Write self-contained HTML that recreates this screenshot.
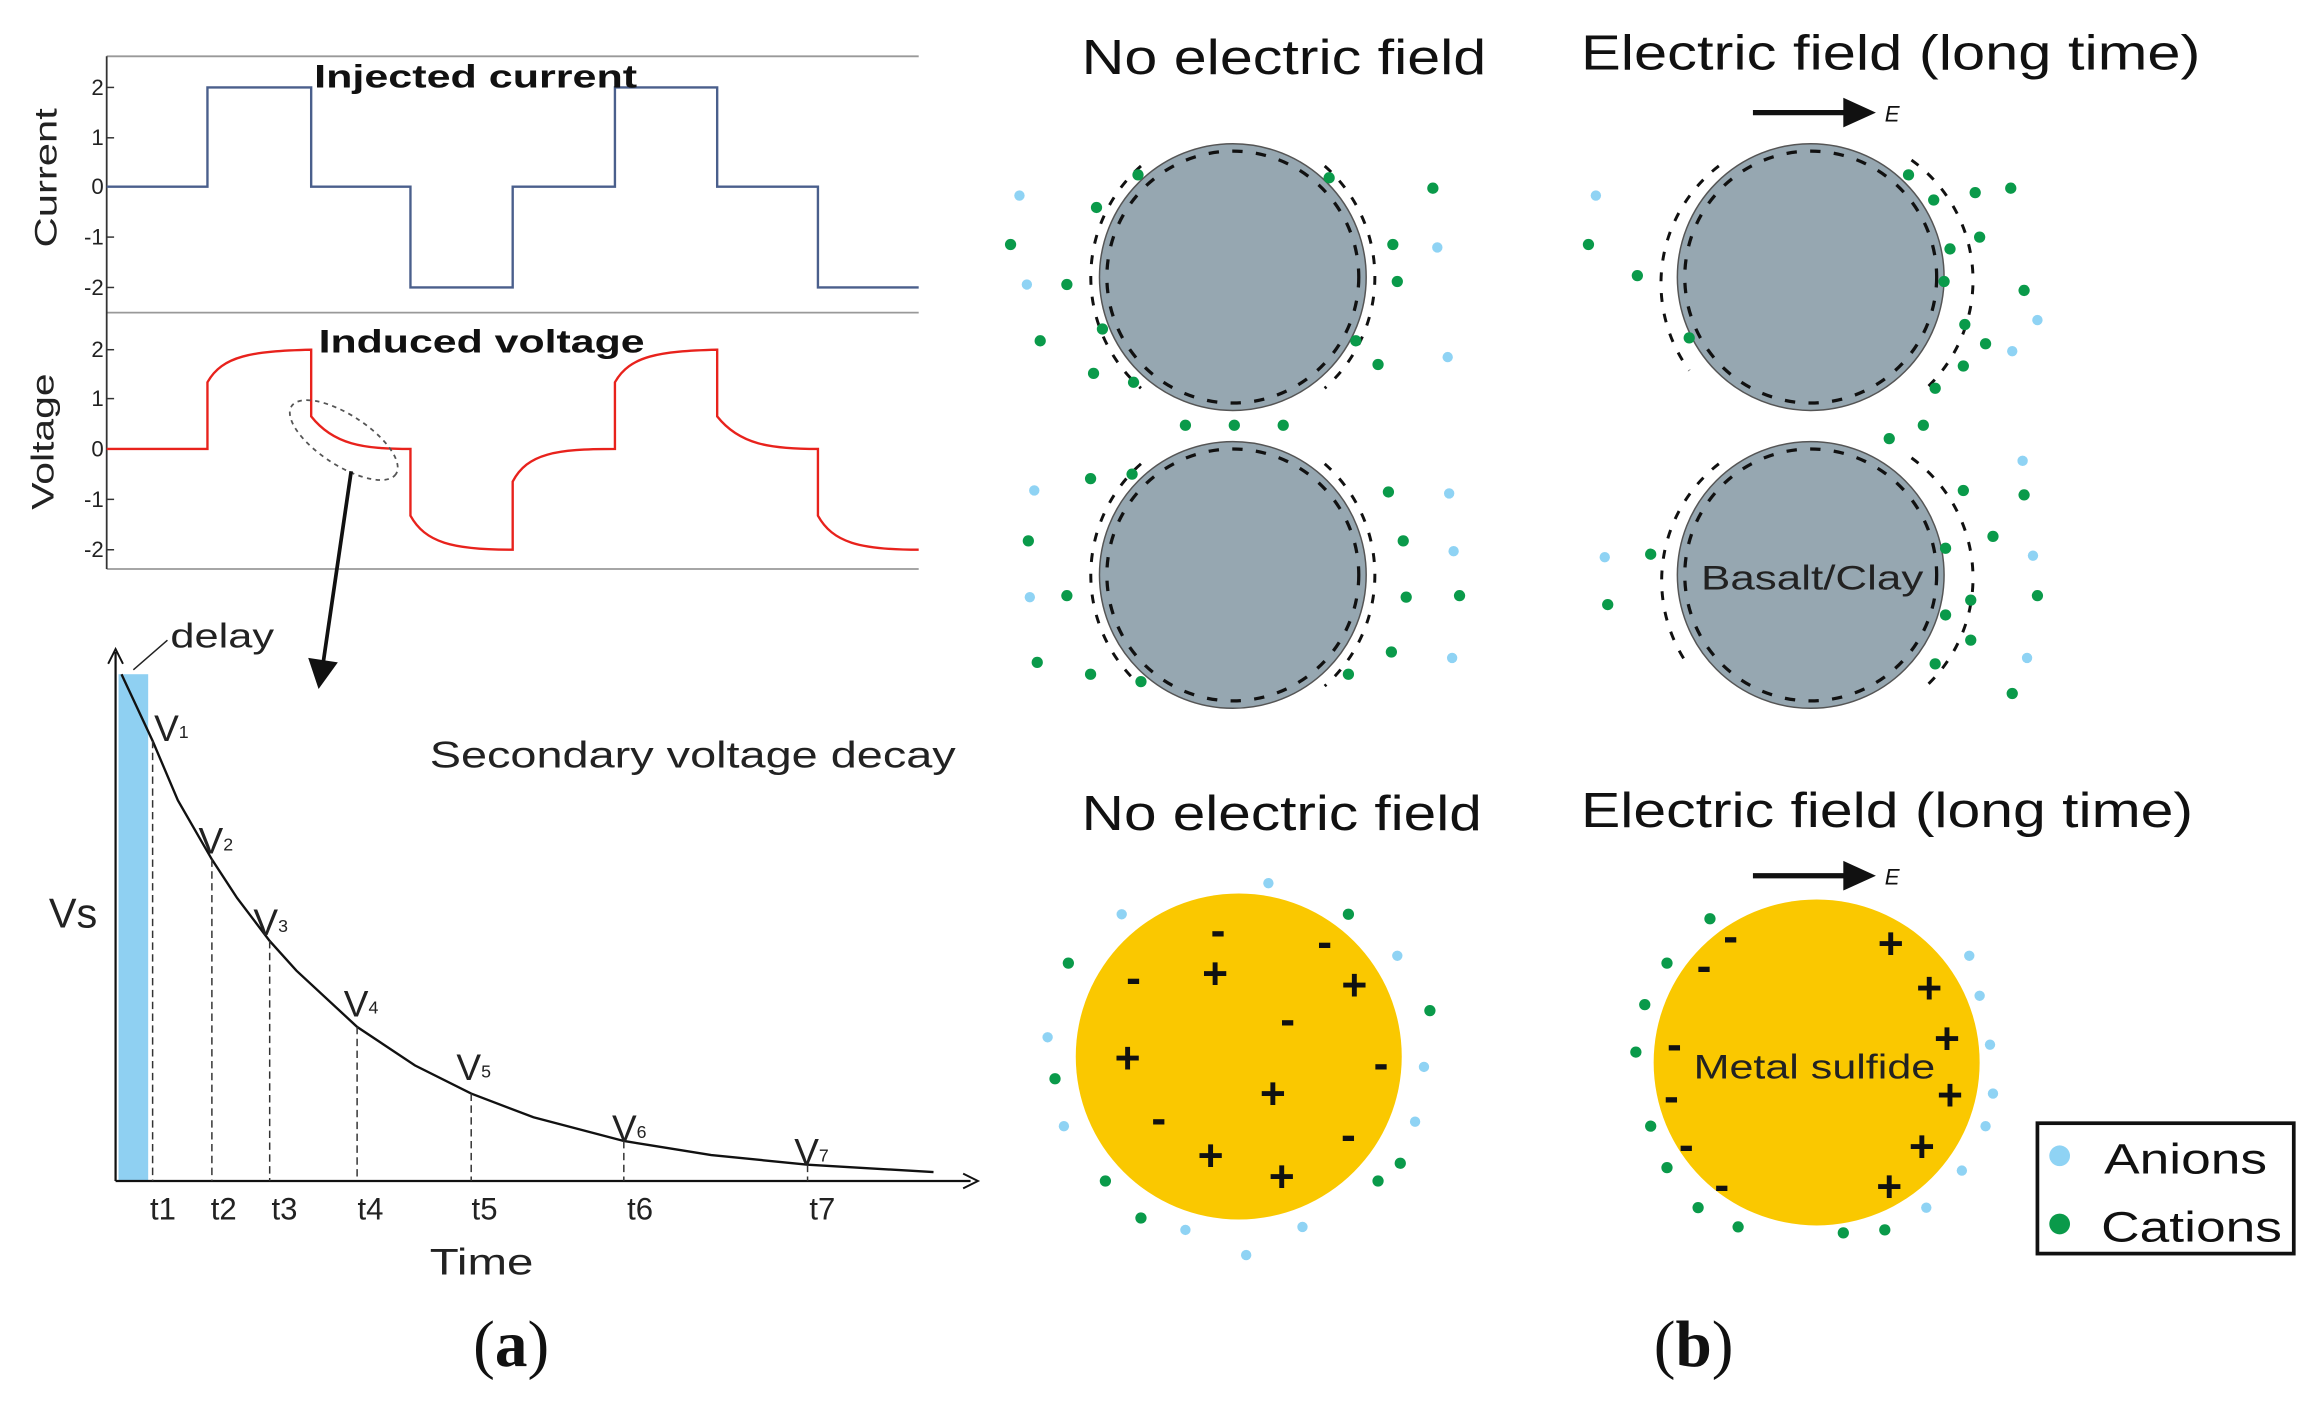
<!DOCTYPE html>
<html><head><meta charset="utf-8"><style>html,body{margin:0;padding:0;background:#fff}svg{display:block}</style></head><body>
<svg width="2316" height="1404" viewBox="0 0 1563 947.5" preserveAspectRatio="none" xmlns="http://www.w3.org/2000/svg" font-family="Liberation Sans, sans-serif">
<rect width="1563" height="947.5" fill="#fff"/>
<g stroke="#999" stroke-width="1.2" fill="none">
<line x1="72" y1="38" x2="620" y2="38"/><line x1="72" y1="211" x2="620" y2="211"/><line x1="72" y1="384" x2="620" y2="384"/>
</g>
<line x1="72" y1="38" x2="72" y2="384" stroke="#333" stroke-width="1.2"/>
<g font-size="15" fill="#222" text-anchor="end">
<text x="70" y="64">2</text><text x="70" y="98">1</text><text x="70" y="131">0</text><text x="70" y="165">-1</text><text x="70" y="199">-2</text>
<text x="70" y="241">2</text><text x="70" y="274">1</text><text x="70" y="308">0</text><text x="70" y="342">-1</text><text x="70" y="376">-2</text>
</g>
<g stroke="#333" stroke-width="1"><line x1="72" y1="59" x2="77" y2="59"/><line x1="72" y1="93" x2="77" y2="93"/><line x1="72" y1="126" x2="77" y2="126"/><line x1="72" y1="160" x2="77" y2="160"/><line x1="72" y1="194" x2="77" y2="194"/><line x1="72" y1="236" x2="77" y2="236"/><line x1="72" y1="269" x2="77" y2="269"/><line x1="72" y1="303" x2="77" y2="303"/><line x1="72" y1="337" x2="77" y2="337"/><line x1="72" y1="371" x2="77" y2="371"/></g>
<text transform="translate(38,120) rotate(-90)" font-size="21" text-anchor="middle" fill="#222" textLength="94" lengthAdjust="spacingAndGlyphs">Current</text>
<text transform="translate(36,298) rotate(-90)" font-size="21" text-anchor="middle" fill="#222" textLength="92" lengthAdjust="spacingAndGlyphs">Voltage</text>
<path d="M72,126 H140 V59 H210 V126 H277 V194 H346 V126 H415 V59 H484 V126 H552 V194 H620" fill="none" stroke="#4a5f8c" stroke-width="1.6"/>
<path d="M72,303 L140,303 L140,258 C150,240 170,237 210,236 L210,281 C225,300 245,303 277,303 L277,348 C287,366 305,371 346,371 L346,325 C356,306 375,303 415,303 L415,258 C425,240 445,237 484,236 L484,281 C499,300 520,303 552,303 L552,348 C562,366 580,371 620,371" fill="none" stroke="#e8221c" stroke-width="1.6"/>
<text x="212" y="59" font-size="22" font-weight="bold" fill="#111" textLength="218" lengthAdjust="spacingAndGlyphs">Injected current</text>
<text x="215" y="238" font-size="22" font-weight="bold" fill="#111" textLength="220" lengthAdjust="spacingAndGlyphs">Induced voltage</text>
<ellipse cx="232" cy="297" rx="42" ry="17" transform="rotate(33 232 297)" fill="none" stroke="#555" stroke-width="1.2" stroke-dasharray="3 3"/>
<line x1="237" y1="318" x2="218" y2="448" stroke="#111" stroke-width="2.5"/>
<polygon points="208,444 228,447 215,465" fill="#111"/>
<rect x="80" y="455" width="20" height="342" fill="#8fd0f2"/>
<line x1="78" y1="797" x2="655" y2="797" stroke="#111" stroke-width="1.5"/>
<line x1="78" y1="797" x2="78" y2="440" stroke="#111" stroke-width="1.5"/>
<path d="M73,448 L78,438 L83,448 M650,792 L660,797 L650,802" fill="none" stroke="#111" stroke-width="1.3"/>
<polyline points="82,455 103,500 120,540 143,580 160,606 182,635 200,655 241,693 280,719 318,738 360,754 421,770 480,779.5 545,786 630,791" fill="none" stroke="#111" stroke-width="1.6"/>
<g stroke="#333" stroke-width="1" stroke-dasharray="5 3">
<line x1="103" y1="500" x2="103" y2="797"/><line x1="143" y1="580" x2="143" y2="797"/><line x1="182" y1="635" x2="182" y2="797"/><line x1="241" y1="693" x2="241" y2="797"/><line x1="318" y1="738" x2="318" y2="797"/><line x1="421" y1="770" x2="421" y2="797"/><line x1="545" y1="786" x2="545" y2="797"/>
</g>
<g font-size="21" fill="#222" text-anchor="middle">
<text x="110" y="823">t1</text><text x="151" y="823">t2</text><text x="192" y="823">t3</text><text x="250" y="823">t4</text><text x="327" y="823">t5</text><text x="432" y="823">t6</text><text x="555" y="823">t7</text>
</g>
<text x="290" y="860" font-size="25" fill="#222" textLength="70" lengthAdjust="spacingAndGlyphs">Time</text>
<text x="33" y="626" font-size="28" fill="#222">Vs</text>
<text x="115" y="437" font-size="23" fill="#222" textLength="70" lengthAdjust="spacingAndGlyphs">delay</text>
<line x1="113" y1="432" x2="90" y2="452" stroke="#222" stroke-width="1"/>
<text x="290" y="518" font-size="25" fill="#222" textLength="355" lengthAdjust="spacingAndGlyphs">Secondary voltage decay</text>
<g font-size="25" fill="#222">
<text x="104" y="500">V<tspan font-size="12" dy="-2">1</tspan></text>
<text x="134" y="576">V<tspan font-size="12" dy="-2">2</tspan></text>
<text x="171" y="631">V<tspan font-size="12" dy="-2">3</tspan></text>
<text x="232" y="686">V<tspan font-size="12" dy="-2">4</tspan></text>
<text x="308" y="729">V<tspan font-size="12" dy="-2">5</tspan></text>
<text x="413" y="770">V<tspan font-size="12" dy="-2">6</tspan></text>
<text x="536" y="786">V<tspan font-size="12" dy="-2">7</tspan></text>
</g>
<text x="345" y="922" font-size="44" font-family="Liberation Serif, serif" text-anchor="middle" fill="#111">(<tspan font-weight="bold">a</tspan>)</text>
<text x="1143" y="922" font-size="44" font-family="Liberation Serif, serif" text-anchor="middle" fill="#111">(<tspan font-weight="bold">b</tspan>)</text>
<g font-size="33" fill="#111" lengthAdjust="spacingAndGlyphs">
<text x="730" y="50" textLength="273" lengthAdjust="spacingAndGlyphs">No electric field</text><text x="1067" y="47" textLength="418" lengthAdjust="spacingAndGlyphs">Electric field (long time)</text>
<text x="730" y="560" textLength="270" lengthAdjust="spacingAndGlyphs">No electric field</text><text x="1067" y="558" textLength="413" lengthAdjust="spacingAndGlyphs">Electric field (long time)</text>
</g>
<line x1="1183" y1="76" x2="1248" y2="76" stroke="#111" stroke-width="3.5"/><polygon points="1244,66 1266,76 1244,86" fill="#111"/>
<text x="1272" y="82" font-size="15" font-style="italic" fill="#111">E</text>
<line x1="1183" y1="591" x2="1248" y2="591" stroke="#111" stroke-width="3.5"/><polygon points="1244,581 1266,591 1244,601" fill="#111"/>
<text x="1272" y="597" font-size="15" font-style="italic" fill="#111">E</text>
<g fill="#96a7b1" stroke="#555" stroke-width="1">
<circle cx="832" cy="187" r="90"/><circle cx="832" cy="388" r="90"/><circle cx="1222" cy="187" r="90"/><circle cx="1222" cy="388" r="90"/>
</g>
<g fill="none" stroke="#111" stroke-width="2.2" stroke-dasharray="7 9">
<circle cx="832" cy="187" r="85"/><circle cx="832" cy="388" r="85"/><circle cx="1222" cy="187" r="85"/><circle cx="1222" cy="388" r="85"/>
</g>
<g fill="none" stroke="#111" stroke-width="2" stroke-dasharray="6 8">
<path d="M770,112 A100,100 0 0,0 770,262"/><path d="M894,112 A100,100 0 0,1 894,262"/>
<path d="M770,313 A100,100 0 0,0 770,463"/><path d="M894,313 A100,100 0 0,1 894,463"/>
<path d="M1160,112 A100,100 0 0,0 1140,250"/><path d="M1290,108 A100,100 0 0,1 1300,262"/>
<path d="M1160,313 A100,100 0 0,0 1140,450"/><path d="M1290,309 A100,100 0 0,1 1300,463"/>
</g>
<text x="1148" y="398" font-size="23" fill="#222" textLength="150" lengthAdjust="spacingAndGlyphs">Basalt/Clay</text>
<circle cx="836" cy="713" r="110" fill="#fac800"/><circle cx="1226" cy="717" r="110" fill="#fac800"/>
<text x="1143" y="728" font-size="23" fill="#222" textLength="163" lengthAdjust="spacingAndGlyphs">Metal sulfide</text>
<g font-size="30" font-weight="bold" fill="#111" text-anchor="middle">
<text x="822" y="638">-</text><text x="765" y="670">-</text><text x="894" y="646">-</text><text x="869" y="698">-</text><text x="932" y="728">-</text><text x="782" y="765">-</text><text x="910" y="776">-</text>
<text x="820" y="667">+</text><text x="914" y="675">+</text><text x="761" y="724">+</text><text x="859" y="748">+</text><text x="817" y="790">+</text><text x="865" y="804">+</text>
<text x="1168" y="642">-</text><text x="1150" y="662">-</text><text x="1130" y="715">-</text><text x="1128" y="750">-</text><text x="1138" y="783">-</text><text x="1162" y="810">-</text>
<text x="1276" y="647">+</text><text x="1302" y="677">+</text><text x="1314" y="711">+</text><text x="1316" y="749">+</text><text x="1297" y="784">+</text><text x="1275" y="811">+</text>
</g>
<g fill="#8fd3f4">
<circle cx="688" cy="132" r="3.5"/><circle cx="693" cy="192" r="3.5"/><circle cx="970" cy="167" r="3.5"/><circle cx="977" cy="241" r="3.5"/>
<circle cx="698" cy="331" r="3.5"/><circle cx="695" cy="403" r="3.5"/><circle cx="978" cy="333" r="3.5"/><circle cx="981" cy="372" r="3.5"/><circle cx="980" cy="444" r="3.5"/>
<circle cx="1077" cy="132" r="3.5"/><circle cx="1375" cy="216" r="3.5"/><circle cx="1358" cy="237" r="3.5"/>
<circle cx="1083" cy="376" r="3.5"/><circle cx="1365" cy="311" r="3.5"/><circle cx="1372" cy="375" r="3.5"/><circle cx="1368" cy="444" r="3.5"/>
<circle cx="757" cy="617" r="3.5"/><circle cx="856" cy="596" r="3.5"/><circle cx="943" cy="645" r="3.5"/><circle cx="707" cy="700" r="3.5"/><circle cx="961" cy="720" r="3.5"/><circle cx="718" cy="760" r="3.5"/><circle cx="955" cy="757" r="3.5"/><circle cx="800" cy="830" r="3.5"/><circle cx="879" cy="828" r="3.5"/><circle cx="841" cy="847" r="3.5"/>
<circle cx="1329" cy="645" r="3.5"/><circle cx="1336" cy="672" r="3.5"/><circle cx="1343" cy="705" r="3.5"/><circle cx="1345" cy="738" r="3.5"/><circle cx="1300" cy="815" r="3.5"/><circle cx="1324" cy="790" r="3.5"/><circle cx="1340" cy="760" r="3.5"/>
<circle cx="1390" cy="780" r="7"/>
</g>
<g fill="#0a9a4a">
<circle cx="682" cy="165" r="3.8"/><circle cx="720" cy="192" r="3.8"/><circle cx="702" cy="230" r="3.8"/><circle cx="744" cy="222" r="3.8"/><circle cx="768" cy="118" r="3.8"/><circle cx="897" cy="120" r="3.8"/><circle cx="940" cy="165" r="3.8"/><circle cx="943" cy="190" r="3.8"/><circle cx="930" cy="246" r="3.8"/><circle cx="967" cy="127" r="3.8"/><circle cx="738" cy="252" r="3.8"/><circle cx="765" cy="258" r="3.8"/><circle cx="915" cy="230" r="3.8"/><circle cx="740" cy="140" r="3.8"/>
<circle cx="800" cy="287" r="3.8"/><circle cx="833" cy="287" r="3.8"/><circle cx="866" cy="287" r="3.8"/>
<circle cx="694" cy="365" r="3.8"/><circle cx="720" cy="402" r="3.8"/><circle cx="700" cy="447" r="3.8"/><circle cx="736" cy="323" r="3.8"/><circle cx="764" cy="320" r="3.8"/><circle cx="937" cy="332" r="3.8"/><circle cx="947" cy="365" r="3.8"/><circle cx="949" cy="403" r="3.8"/><circle cx="939" cy="440" r="3.8"/><circle cx="985" cy="402" r="3.8"/><circle cx="736" cy="455" r="3.8"/><circle cx="770" cy="460" r="3.8"/><circle cx="910" cy="455" r="3.8"/>
<circle cx="1072" cy="165" r="3.8"/><circle cx="1105" cy="186" r="3.8"/><circle cx="1140" cy="228" r="3.8"/><circle cx="1288" cy="118" r="3.8"/><circle cx="1305" cy="135" r="3.8"/><circle cx="1316" cy="168" r="3.8"/><circle cx="1333" cy="130" r="3.8"/><circle cx="1357" cy="127" r="3.8"/><circle cx="1336" cy="160" r="3.8"/><circle cx="1366" cy="196" r="3.8"/><circle cx="1312" cy="190" r="3.8"/><circle cx="1326" cy="219" r="3.8"/><circle cx="1340" cy="232" r="3.8"/><circle cx="1325" cy="247" r="3.8"/><circle cx="1306" cy="262" r="3.8"/>
<circle cx="1275" cy="296" r="3.8"/><circle cx="1298" cy="287" r="3.8"/><circle cx="1114" cy="374" r="3.8"/><circle cx="1085" cy="408" r="3.8"/><circle cx="1325" cy="331" r="3.8"/><circle cx="1366" cy="334" r="3.8"/><circle cx="1345" cy="362" r="3.8"/><circle cx="1313" cy="370" r="3.8"/><circle cx="1375" cy="402" r="3.8"/><circle cx="1330" cy="405" r="3.8"/><circle cx="1330" cy="432" r="3.8"/><circle cx="1306" cy="448" r="3.8"/><circle cx="1313" cy="415" r="3.8"/><circle cx="1358" cy="468" r="3.8"/>
<circle cx="721" cy="650" r="3.8"/><circle cx="910" cy="617" r="3.8"/><circle cx="965" cy="682" r="3.8"/><circle cx="712" cy="728" r="3.8"/><circle cx="746" cy="797" r="3.8"/><circle cx="770" cy="822" r="3.8"/><circle cx="930" cy="797" r="3.8"/><circle cx="945" cy="785" r="3.8"/>
<circle cx="1154" cy="620" r="3.8"/><circle cx="1125" cy="650" r="3.8"/><circle cx="1110" cy="678" r="3.8"/><circle cx="1104" cy="710" r="3.8"/><circle cx="1114" cy="760" r="3.8"/><circle cx="1125" cy="788" r="3.8"/><circle cx="1146" cy="815" r="3.8"/><circle cx="1173" cy="828" r="3.8"/><circle cx="1244" cy="832" r="3.8"/><circle cx="1272" cy="830" r="3.8"/>
<circle cx="1390" cy="826" r="7"/>
</g>
<rect x="1375" y="758" width="173" height="88" fill="none" stroke="#111" stroke-width="2.5"/>
<text x="1420" y="792" font-size="29" fill="#111" textLength="110" lengthAdjust="spacingAndGlyphs">Anions</text>
<text x="1418" y="838" font-size="29" fill="#111" textLength="122" lengthAdjust="spacingAndGlyphs">Cations</text>
</svg>
</body></html>
